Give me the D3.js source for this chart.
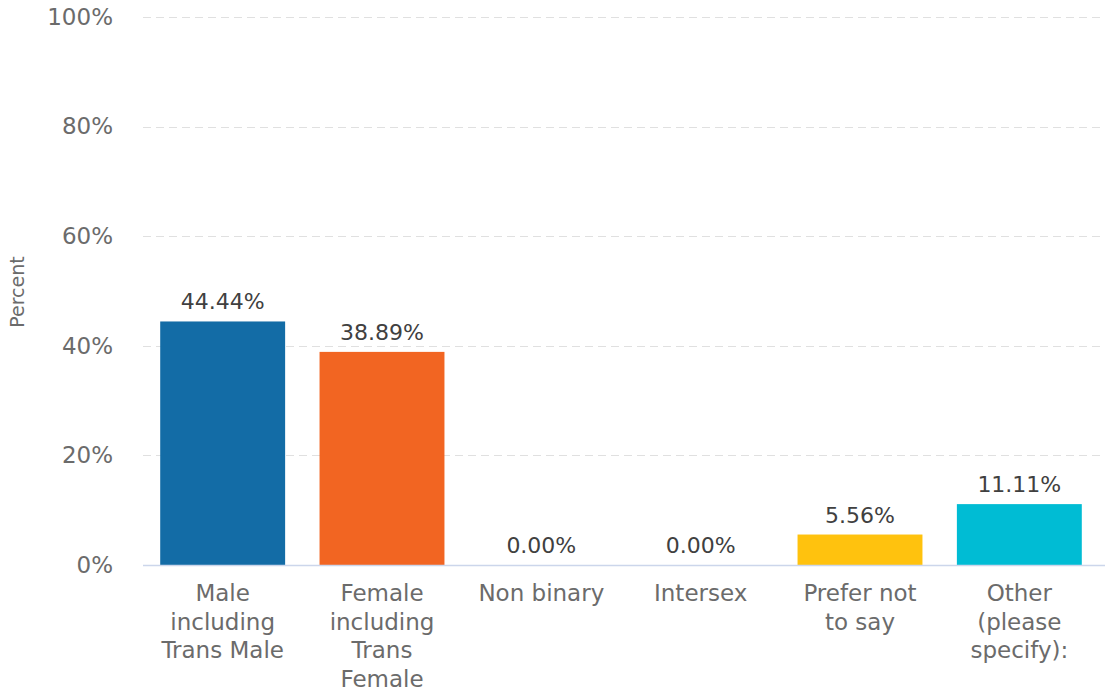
<!DOCTYPE html>
<html>
<head>
<meta charset="utf-8">
<script src="https://cdn.jsdelivr.net/npm/d3@7"></script>
<style>
  html, body { margin: 0; padding: 0; background: #fff; }
  svg { display: block; font-family: "DejaVu Sans", sans-serif; }
</style>
</head>
<body>
<svg id="chart" width="1105" height="695"></svg>
<script>
// Gender breakdown of respondents (percent)
const categories = [
  ["Male", "including", "Trans Male"],
  ["Female", "including", "Trans", "Female"],
  ["Non binary"],
  ["Intersex"],
  ["Prefer not", "to say"],
  ["Other", "(please", "specify):"]
];
const values = [44.44, 38.89, 0.00, 0.00, 5.56, 11.11];
const colors = ["#136ca6", "#f26522", "#8c6bb1", "#2ca02c", "#ffc20e", "#00bcd4"];
const yTicks = [0, 20, 40, 60, 80, 100];
const yTitle = "Percent";

const svg = d3.select("#chart");
const margin = { left: 143, right: 6, top: 17, bottom: 130 };
const W = 1105;

const x = d3.scaleBand()
  .domain(d3.range(values.length))
  .range([margin.left, W - margin.right])
  .paddingInner(0.216)
  .paddingOuter(0.108);

const y = d3.scaleLinear()
  .domain([0, 100])
  .range([565, margin.top]);

// dashed gridlines
svg.append("g")
  .selectAll("line")
  .data(yTicks.filter(d => d > 0))
  .join("line")
  .attr("x1", margin.left)
  .attr("x2", W)
  .attr("y1", d => Math.round(y(d)) + 0.5)
  .attr("y2", d => Math.round(y(d)) + 0.5)
  .attr("stroke", "#e0e0e0")
  .attr("stroke-width", 1.2)
  .attr("stroke-dasharray", "8,5");

// y axis labels
const yAxis = svg.append("g")
  .attr("transform", `translate(${margin.left},0)`)
  .call(d3.axisLeft(y).tickValues(yTicks).tickFormat(d => d + "%").tickSize(0).tickPadding(30));
yAxis.select(".domain").remove();
yAxis.selectAll("text")
  .attr("font-family", "DejaVu Sans, sans-serif")
  .attr("font-size", 23)
  .attr("fill", "#6b6b6b");

// y axis title
svg.append("text")
  .attr("transform", `translate(24,292) rotate(-90)`)
  .attr("text-anchor", "middle")
  .attr("font-size", 19)
  .attr("fill", "#6b6b6b")
  .text(yTitle);

// bars
svg.append("g")
  .selectAll("rect")
  .data(values)
  .join("rect")
  .attr("x", (d, i) => x(i))
  .attr("width", x.bandwidth())
  .attr("y", d => y(d))
  .attr("height", d => y(0) - y(d))
  .attr("fill", (d, i) => colors[i]);

// baseline
svg.append("line")
  .attr("x1", margin.left)
  .attr("x2", W)
  .attr("y1", 565.5)
  .attr("y2", 565.5)
  .attr("stroke", "#ccd6eb")
  .attr("stroke-width", 1.5);

// value labels
svg.append("g")
  .selectAll("text")
  .data(values)
  .join("text")
  .attr("x", (d, i) => x(i) + x.bandwidth() / 2)
  .attr("y", d => y(d) - 12)
  .attr("text-anchor", "middle")
  .attr("font-size", 22)
  .attr("fill", "#404040")
  .text(d => d.toFixed(2) + "%");

// category labels
const catG = svg.append("g");
categories.forEach((lines, i) => {
  const cx = x(i) + x.bandwidth() / 2;
  const t = catG.append("text")
    .attr("x", cx)
    .attr("y", 601)
    .attr("text-anchor", "middle")
    .attr("font-size", 23)
    .attr("fill", "#6b6b6b");
  lines.forEach((ln, j) => {
    t.append("tspan")
      .attr("x", cx)
      .attr("dy", j === 0 ? 0 : 28.7)
      .text(ln);
  });
});
</script>
</body>
</html>
